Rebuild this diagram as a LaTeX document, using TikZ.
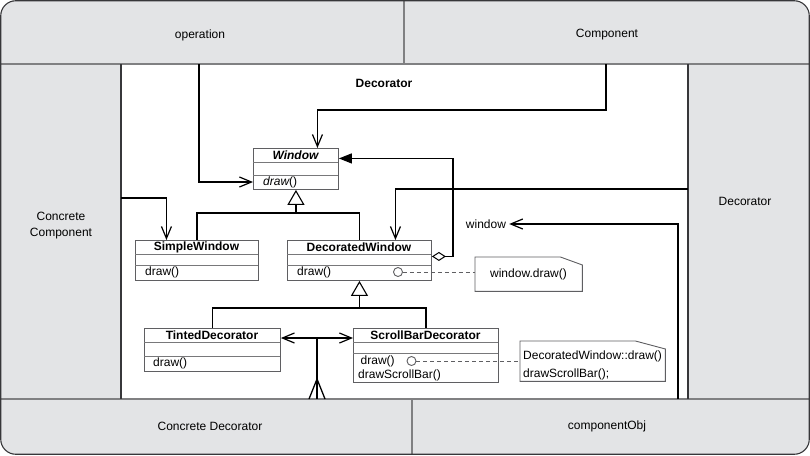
\documentclass[tikz,border=0pt]{standalone}
\usepackage{fontspec}
\setmainfont{Liberation Sans}
\usetikzlibrary{arrows.meta}
\definecolor{panel}{RGB}{227,228,230}
\definecolor{frameclr}{RGB}{55,55,58}
\definecolor{divclr}{RGB}{128,128,130}
\definecolor{umlgray}{RGB}{95,95,98}
\definecolor{sepclr}{RGB}{120,120,122}
\begin{document}
\begin{tikzpicture}[x=1pt,y=-1pt,font=\fontsize{12}{14}\selectfont]
\tikzset{
  divider/.style={draw=divclr,line width=1.2pt},
  frameline/.style={draw=frameclr,line width=1.1pt},
  lbl/.style={inner sep=0pt},
  cls/.style={draw=umlgray,line width=0.9pt,fill=white,rectangle,inner sep=0pt,anchor=north west},
  sepl/.style={draw=sepclr,line width=0.8pt},
  ttl/.style={inner sep=0pt,font=\fontsize{12}{14}\selectfont\bfseries},
  opt/.style={inner sep=0pt,anchor=west},
  conn/.style={draw=black,line width=1.3pt},
  assoc/.style={conn,-{Straight Barb[length=12pt,width=10pt,line width=1.2pt]}},
  gen/.style={conn,-{Triangle[open,length=15pt,width=17pt,line width=1.1pt,fill=white]}},
  aggr/.style={conn,{Diamond[open,length=14pt,width=9pt,line width=1pt,fill=white]}-{Triangle[length=13pt,width=10pt]}},
  notebox/.style={rectangle,inner sep=0pt,anchor=north west},
  noteline/.style={draw=umlgray,line width=0.9pt,fill=white},
  circ/.style={circle,draw=umlgray,line width=0.9pt,fill=white,minimum size=9pt,inner sep=0pt},
  dashl/.style={draw=umlgray,line width=0.8pt,dash pattern=on 4pt off 3pt}
}
\useasboundingbox (0,0) rectangle (810,455);
% background panels
\fill[panel,rounded corners=15pt] (0.75,0.75) rectangle (809.25,454.25);
\fill[white] (121,64) rectangle (688,399);
\draw[divider] (0,64) -- (810,64);
\draw[divider] (404,0) -- (404,64);
\draw[divider] (0,399) -- (810,399);
\draw[divider] (412,399) -- (412,455);
\draw[frameline] (121,64) -- (121,399);
\draw[frameline] (688,64) -- (688,399);
\draw[frameline,rounded corners=15pt] (0.75,0.75) rectangle (809.25,454.25);
% panel labels
\node[lbl] (pOp) at (200,35) {operation};
\node[lbl] (pComp) at (607,35) {Component};
\node[lbl,align=center,font=\fontsize{12}{16}\selectfont] (pCC) at (61,226) {Concrete\\Component};
\node[lbl] (pDec) at (745,201) {Decorator};
\node[lbl] (pCD) at (210,426) {Concrete Decorator};
\node[lbl] (pCO) at (607,426) {componentObj};
\node[ttl] (dtitle) at (384,83) {Decorator};
% classes
\node[cls,minimum width=85pt,minimum height=41pt] (win) at (253,148) {};
\draw[sepl] (253,162) -- (338,162); \draw[sepl] (253,175) -- (338,175);
\node[ttl,font=\fontsize{12}{14}\selectfont\bfseries\itshape] (wint) at (295.5,155.5) {Window};
\node[opt] (winop) at (263,182) {\itshape draw\upshape()};

\node[cls,minimum width=123pt,minimum height=40pt] (sw) at (135,240) {};
\draw[sepl] (135,254) -- (258,254); \draw[sepl] (135,265) -- (258,265);
\node[ttl] (swt) at (196.5,247) {SimpleWindow};
\node[opt] (swop) at (145,272) {draw()};

\node[cls,minimum width=144pt,minimum height=40pt] (dw) at (287,240) {};
\draw[sepl] (287,254) -- (431,254); \draw[sepl] (287,265) -- (431,265);
\node[ttl] (dwt) at (359,247) {DecoratedWindow};
\node[opt] (dwop) at (297,272) {draw()};

\node[cls,minimum width=136pt,minimum height=43pt] (td) at (144,328) {};
\draw[sepl] (144,342) -- (280,342); \draw[sepl] (144,356) -- (280,356);
\node[ttl] (tdt) at (212,335) {TintedDecorator};
\node[opt] (tdop) at (153,363) {draw()};

\node[cls,minimum width=145pt,minimum height=54pt] (sb) at (353,328) {};
\draw[sepl] (353,342) -- (498,342); \draw[sepl] (353,353) -- (498,353);
\node[ttl] (sbt) at (425.5,335) {ScrollBarDecorator};
\node[opt] (sbop1) at (360.5,361) {draw()};
\node[opt] (sbop2) at (358,375) {drawScrollBar()};

% notes
\node[notebox,minimum width=107pt,minimum height=34pt] (n1) at (475,257) {};
\draw[noteline] (n1.north west) -- ([xshift=-22pt]n1.north east) -- ([yshift=-8pt]n1.north east) -- (n1.south east) -- (n1.south west) -- cycle;
\node[lbl] (n1t) at (528.5,274.5) {window.draw()};

\node[notebox,minimum width=145pt,minimum height=40pt] (n2) at (520,341) {};
\draw[noteline] (n2.north west) -- ([xshift=-30pt]n2.north east) -- ([yshift=-8pt]n2.north east) -- (n2.south east) -- (n2.south west) -- cycle;
\node[opt] (n2a) at (523,356) {DecoratedWindow::draw()};
\node[opt] (n2b) at (523,374) {drawScrollBar();};

% circles and dashed links
\node[circ] (c1) at (398,272) {};
\node[circ] (c2) at (411.5,361) {};
\draw[dashl] (c1.east) -- (c1.east -| n1.west);
\draw[dashl] (c2.east) -- (c2.east -| n2.west);

% connectors
\coordinate (opS) at (199,64);
\draw[assoc] (opS) |- (win.west |- winop.west);
\coordinate (compS) at (606,64);
\draw[assoc] (compS) -- ++(0,46) -| ([xshift=21.5pt]win.north);
\draw[aggr] ([yshift=4pt]dw.east) -- ++(21,0) |- ([yshift=10.5pt]win.east);
\coordinate (decS) at (688,189);
\draw[assoc] (decS) -| ([xshift=36pt]dw.north);
\coordinate (ccS) at (121,198);
\draw[assoc] (ccS) -| ([xshift=-30.5pt]sw.north);
% generalization 1
\draw[conn] (sw.north) |- ([yshift=27pt]dw.north) -- (dw.north);
\draw[gen] ([yshift=-24pt]win.south) -- (win.south);
% generalization 2
\draw[conn] (td.north) |- ([yshift=20pt]sb.north) -- (sb.north);
\draw[gen] ([yshift=-28pt]dw.south) -- (dw.south);
% concrete decorator
\coordinate (cdY) at (317,338);
\coordinate (cdB) at (317,399);
\draw[conn,{Straight Barb[length=12pt,width=10pt,line width=1.2pt]}-{Straight Barb[length=12pt,width=10pt,line width=1.2pt]}] (td.east |- cdY) -- (sb.west |- cdY);
\draw[conn] (cdB) -- (cdY);
\draw[conn] ([xshift=-8pt]cdB) -- ([yshift=20pt]cdB) -- ([xshift=8pt]cdB);
% componentObj -> window
\node[lbl] (wlbl) at (486,224) {window};
\coordinate (cpS) at (678,399);
\draw[assoc] (cpS) |- ([xshift=3pt]wlbl.east);
\end{tikzpicture}
\end{document}
